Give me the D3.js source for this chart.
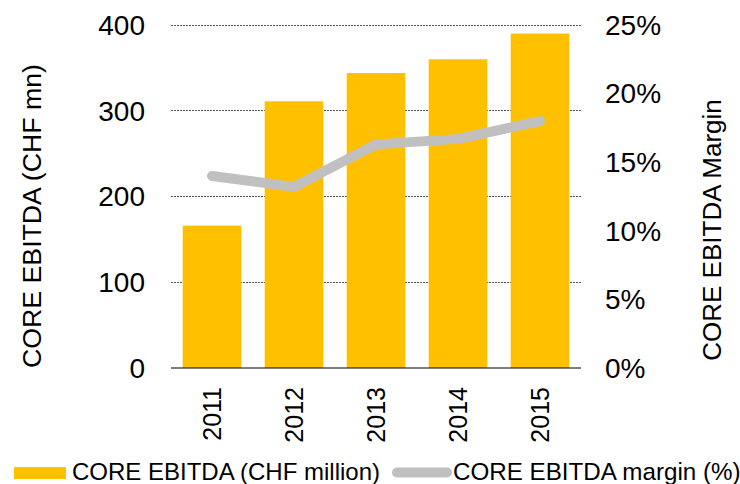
<!DOCTYPE html>
<html>
<head>
<meta charset="utf-8">
<script src="https://cdn.jsdelivr.net/npm/d3@7"></script>
<style>
  html, body { margin: 0; padding: 0; background: #fff; }
  svg { display: block; font-family: "Liberation Sans", Arial, sans-serif; }
</style>
</head>
<body>
<svg id="chart" width="740" height="484"></svg>
<script>
const years = ["2011", "2012", "2013", "2014", "2015"];
const ebitda = [166, 311, 344, 360, 390];
const margin = [0.140, 0.132, 0.163, 0.167, 0.180];
const leftTicks = [0, 100, 200, 300, 400];
const rightTicks = [0, 0.05, 0.10, 0.15, 0.20, 0.25];
const leftTitle = "CORE EBITDA (CHF mn)";
const rightTitle = "CORE EBITDA Margin";
const legendLabels = ["CORE EBITDA (CHF million)", "CORE EBITDA margin (%)"];

const svg = d3.select("#chart");
const plot = { left: 171, right: 581, top: 25, bottom: 368 };

const x = d3.scaleBand().domain(years).range([plot.left, plot.right])
  .paddingInner(0.285).paddingOuter(0.1425);
const yL = d3.scaleLinear().domain([0, 400]).range([plot.bottom, plot.top]);
const yR = d3.scaleLinear().domain([0, 0.25]).range([plot.bottom, plot.top]);

// gridlines
svg.append("g").selectAll("line").data(leftTicks.filter(d => d > 0)).join("line")
  .attr("x1", plot.left).attr("x2", plot.right)
  .attr("y1", d => yL(d)).attr("y2", d => yL(d))
  .attr("stroke", "#555").attr("stroke-width", 1).attr("stroke-dasharray", "2,1")
  .attr("shape-rendering", "crispEdges");

// bars
svg.append("g").selectAll("rect").data(years).join("rect")
  .attr("x", d => x(d)).attr("width", x.bandwidth())
  .attr("y", (d, i) => yL(ebitda[i]))
  .attr("height", (d, i) => yL(0) - yL(ebitda[i]))
  .attr("fill", "#FFC000");

// baseline
svg.append("line")
  .attr("x1", plot.left).attr("x2", plot.right)
  .attr("y1", yL(0)).attr("y2", yL(0))
  .attr("stroke", "#000").attr("stroke-width", 1.2);

// margin line
const line = d3.line()
  .x((d, i) => x(years[i]) + x.bandwidth() / 2)
  .y(d => yR(d));
svg.append("path").datum(margin)
  .attr("d", line)
  .attr("fill", "none").attr("stroke", "#C0C0C0")
  .attr("stroke-width", 10).attr("stroke-linecap", "round").attr("stroke-linejoin", "round");

// left axis labels
svg.append("g").selectAll("text").data(leftTicks).join("text")
  .attr("x", 145).attr("y", d => yL(d)).attr("dy", "0.35em")
  .attr("text-anchor", "end").attr("font-size", 28).attr("fill", "#000")
  .text(d => d);

// right axis labels
svg.append("g").selectAll("text").data(rightTicks).join("text")
  .attr("x", 605).attr("y", d => yR(d)).attr("dy", "0.35em")
  .attr("text-anchor", "start").attr("font-size", 28).attr("fill", "#000")
  .text(d => Math.round(d * 100) + "%");

// x labels rotated
svg.append("g").selectAll("text").data(years).join("text")
  .attr("transform", d => `translate(${x(d) + x.bandwidth() / 2 + 9},${387}) rotate(-90)`)
  .attr("text-anchor", "end").attr("font-size", 25).attr("fill", "#000")
  .text(d => d);

// axis titles
svg.append("text")
  .attr("transform", "translate(41,216) rotate(-90)")
  .attr("text-anchor", "middle").attr("font-size", 26.7).attr("fill", "#000")
  .text(leftTitle);
svg.append("text")
  .attr("transform", "translate(721,230) rotate(-90)")
  .attr("text-anchor", "middle").attr("font-size", 26).attr("fill", "#000")
  .text(rightTitle);

// legend
const lg = svg.append("g");
lg.append("rect").attr("x", 14).attr("y", 467).attr("width", 52).attr("height", 12).attr("fill", "#FFC000");
lg.append("text").attr("x", 72).attr("y", 480).attr("font-size", 24).attr("fill", "#000").text(legendLabels[0]);
lg.append("line").attr("x1", 397).attr("x2", 447).attr("y1", 472.5).attr("y2", 472.5)
  .attr("stroke", "#C0C0C0").attr("stroke-width", 10).attr("stroke-linecap", "round");
lg.append("text").attr("x", 453).attr("y", 480).attr("font-size", 24.2).attr("fill", "#000").text(legendLabels[1]);
</script>
</body>
</html>
